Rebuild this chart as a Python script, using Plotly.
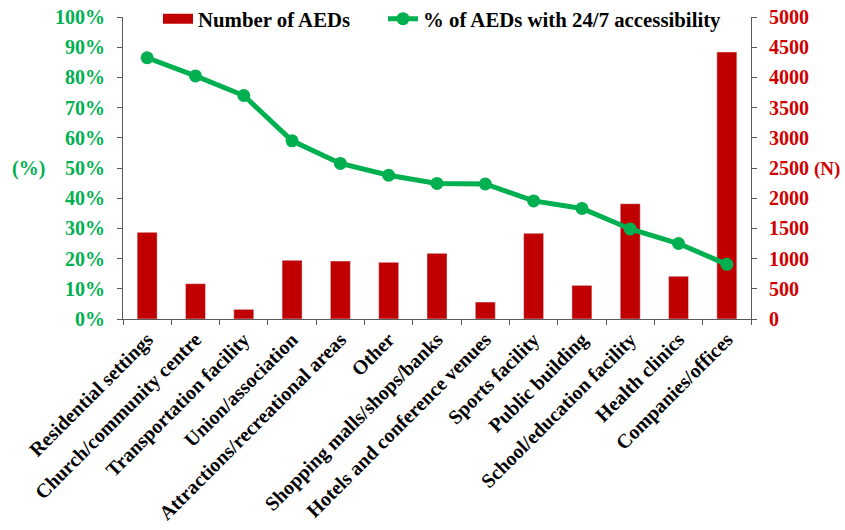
import plotly.graph_objects as go

categories = ["Residential settings", "Church/community centre", "Transportation facility",
              "Union/association", "Attractions/recreational areas", "Other",
              "Shopping malls/shops/banks", "Hotels and conference venues", "Sports facility",
              "Public building", "School/education facility", "Health clinics", "Companies/offices"]
n_aeds = [1435, 585, 160, 972, 960, 938, 1087, 281, 1419, 557, 1909, 707, 4421]
pct_247 = [0.865, 0.805, 0.74, 0.59, 0.515, 0.476, 0.449, 0.447, 0.391, 0.366, 0.298, 0.25, 0.181]

GREEN = "#00B050"
RED = "#C00000"
RED_TXT = "#D00000"
FONT = "Liberation Serif"
AX = "#595959"

fig = go.Figure()
fig.add_trace(go.Bar(x=categories, y=n_aeds, name="Number of AEDs", marker_color=RED,
                     yaxis="y", showlegend=False))
# legend-only entry drawn as a wide red swatch, like the reference key
fig.add_trace(go.Scatter(x=[None], y=[None], name="Number of AEDs", mode="lines",
                         line=dict(color=RED, width=12), yaxis="y", legend="legend",
                         hoverinfo="skip"))
fig.add_trace(go.Scatter(x=categories, y=pct_247, name="% of AEDs with 24/7 accessibility",
                         mode="lines+markers", line=dict(color=GREEN, width=5),
                         marker=dict(color=GREEN, size=13), yaxis="y2", legend="legend2"))

legend_font = dict(family=FONT, size=20.8, color="black", weight="bold")
fig.update_layout(
    width=845, height=530,
    margin=dict(l=123, r=94, t=17, b=211, autoexpand=False),
    plot_bgcolor="white", paper_bgcolor="white",
    font=dict(family=FONT, size=20, color="black"),
    bargap=0.586,
    showlegend=True,
    legend=dict(orientation="h", x=0.0557, y=0.993, xanchor="left", yanchor="middle",
                bgcolor="rgba(0,0,0,0)", font=legend_font, itemwidth=30),
    legend2=dict(orientation="h", x=0.414, y=0.993, xanchor="left", yanchor="middle",
                 bgcolor="rgba(0,0,0,0)", font=legend_font, itemwidth=30),
    xaxis=dict(type="category", categoryorder="array", categoryarray=categories,
               range=[-0.5, len(categories) - 0.5], autorange=False,
               showline=True, linecolor=AX, linewidth=1, automargin=False,
               ticks="outside", tickson="boundaries", ticklen=5, tickcolor=AX,
               tickangle=-45, tickfont=dict(family=FONT, size=20, color="black", weight="bold"),
               showgrid=False),
    yaxis=dict(side="right", range=[0, 5000], tickvals=list(range(0, 5001, 500)), automargin=False,
               showline=True, linecolor=AX, linewidth=1, ticks="outside", ticklen=5,
               tickcolor=AX, showgrid=False, zeroline=False, ticklabelstandoff=8,
               tickfont=dict(family=FONT, size=20, color=RED_TXT, weight="bold")),
    yaxis2=dict(side="left", overlaying="y", range=[0, 1], tickvals=[i / 10 for i in range(11)],
                automargin=False, tickformat=".0%", showline=True, linecolor=AX, linewidth=1,
                ticks="outside", ticklen=5, tickcolor=AX, showgrid=False, zeroline=False,
                ticklabelstandoff=8,
                tickfont=dict(family=FONT, size=20, color=GREEN, weight="bold")),
    annotations=[
        dict(text="(%)", xref="paper", yref="paper", x=-0.121, y=0.497, xanchor="right",
             yanchor="middle", showarrow=False,
             font=dict(family=FONT, size=20, color=GREEN, weight="bold")),
        dict(text="(N)", xref="paper", yref="paper", x=1.097, y=0.497, xanchor="left",
             yanchor="middle", showarrow=False,
             font=dict(family=FONT, size=19, color=RED_TXT, weight="bold")),
    ],
)

fig.write_html("out.html", config={"displayModeBar": False},
               post_script="document.body.style.margin='0';")
